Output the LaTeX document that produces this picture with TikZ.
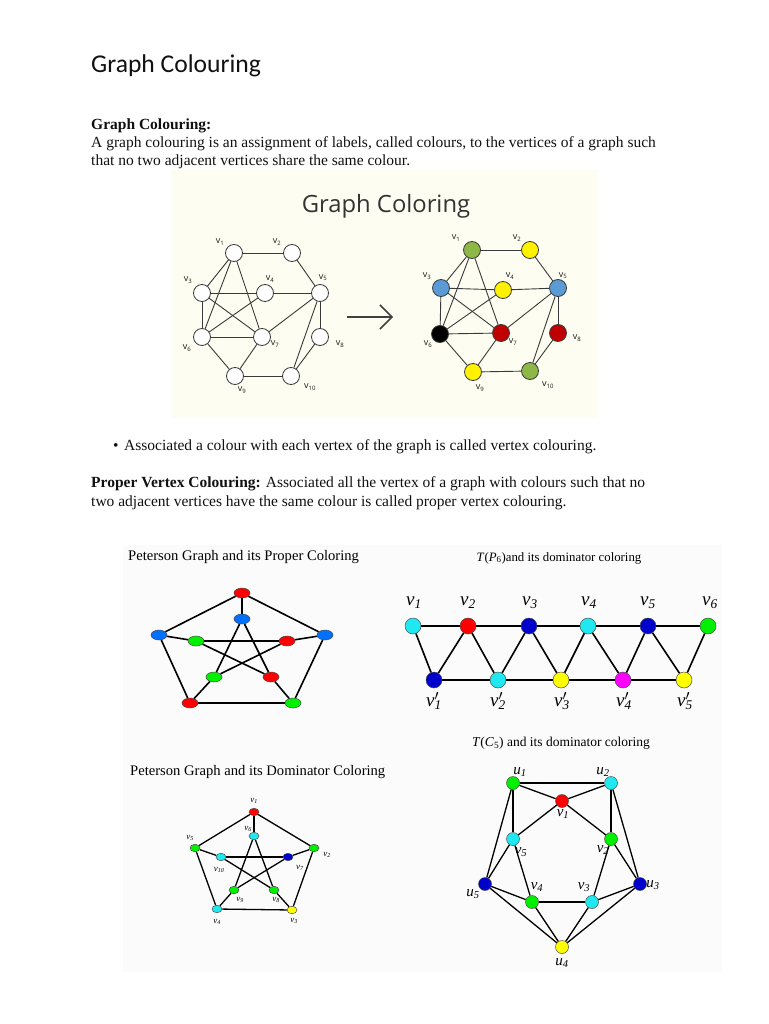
\documentclass[tikz,border=0pt]{standalone}
\usepackage{fontspec}
\setmainfont{Liberation Serif}
\newfontfamily\titlefont{Carlito}
\newfontfamily\osans{Open Sans}
\usetikzlibrary{shapes.geometric,arrows.meta}
\definecolor{txt}{HTML}{111111}
\definecolor{cream}{HTML}{FDFDF2}
\definecolor{panelgray}{HTML}{FBFBFB}
\definecolor{gedge}{HTML}{3A3A3A}
\definecolor{cgreen}{HTML}{8DB848}
\definecolor{cyellow}{HTML}{FFF200}
\definecolor{cblue}{HTML}{5B9BD5}
\definecolor{cred}{HTML}{C00000}
\definecolor{pred}{HTML}{FF0000}
\definecolor{pblue}{HTML}{0070FF}
\definecolor{pgreen}{HTML}{00F000}
\definecolor{pcyan}{HTML}{20E8F0}
\definecolor{pnavy}{HTML}{0000CC}
\definecolor{pmag}{HTML}{FF00FF}
\definecolor{pyellow}{HTML}{FFFF00}
\newcommand\tv[1]{v\textsubscript{#1}}
\newcommand\iv[1]{\textit{v}\textsubscript{\textit{#1}}}
\newcommand\ivp[1]{\textit{v}\rlap{$'$}\textsubscript{\textit{#1}}}
\newcommand\iu[1]{\textit{u}\textsubscript{\textit{#1}}}
\begin{document}
\begin{tikzpicture}[x=1pt,y=-1pt,
  body/.style={inner sep=0pt, anchor=base west, text=txt, font=\fontsize{15.5}{18}\selectfont},
  gn/.style={circle, draw=gedge, line width=0.8pt, minimum size=17pt, inner sep=0pt, fill=white},
  ge/.style={draw=gedge, line width=0.9pt},
  glab/.style={inner sep=0pt, font=\osans\fontsize{9}{9}\selectfont, text=black!90},
  pe/.style={draw=black, line width=1.6pt},
  pel/.style={ellipse, draw=black!70, line width=0.5pt, minimum width=16pt, minimum height=10pt, inner sep=0pt},
  tn/.style={circle, draw=black!70, line width=0.5pt, minimum size=16pt, inner sep=0pt},
  cn/.style={circle, draw=black!70, line width=0.5pt, minimum size=13pt, inner sep=0pt},
  ce/.style={draw=black, line width=1.3pt},
  dn/.style={ellipse, draw=black!70, line width=0.5pt, minimum width=10pt, minimum height=7.5pt, inner sep=0pt},
  de/.style={draw=black, line width=1.3pt},
  ilab/.style={inner sep=0pt, font=\fontsize{19}{19}\selectfont},
  ulab/.style={inner sep=0pt, font=\fontsize{15}{15}\selectfont},
  dlab/.style={inner sep=0pt, font=\fontsize{9}{9}\selectfont},
  ptitle/.style={inner sep=0pt, anchor=base west, font=\fontsize{14.6}{16}\selectfont},
  stitle/.style={inner sep=0pt, anchor=base, font=\fontsize{12.8}{14}\selectfont}
]
\useasboundingbox (0,0) rectangle (768,1024);
\fill[white] (0,0) rectangle (768,1024);

% ---------- text ----------
\node[inner sep=0pt, anchor=base west, text=txt, font=\titlefont\fontsize{25.6}{28}\selectfont] (title) at (91,73) {Graph Colouring};
\node[body, font=\bfseries\fontsize{15.5}{18}\selectfont] (h1) at (91,130) {Graph Colouring:};
\node[body] (l1) at (91,148) {A graph colouring is an assignment of labels, called colours, to the vertices of a graph such};
\node[body] (l2) at (91,166) {that no two adjacent vertices share the same colour.};
\node[body] (bul) at (113,450) {\textbullet};
\node[body] (l3) at (124,450) {Associated a colour with each vertex of the graph is called vertex colouring.};
\node[body] (l4) at (91,487) {\textbf{Proper Vertex Colouring:} Associated all the vertex of a graph with colours such that no};
\node[body] (l5) at (91,506) {two adjacent vertices have the same colour is called proper vertex colouring.};

% ---------- top panel ----------
\fill[cream] (171,170) rectangle (598,418);
\node[inner sep=0pt, anchor=base, text=black!80, font=\osans\fontsize{23.8}{26}\selectfont] (gct) at (386,213) {Graph Coloring};

% left graph
\foreach \n/\x/\y in {1/234/253,2/292/253,3/202/293,4/265/293,5/320/293,6/202/337,7/262/337,8/320/337,9/235/376,10/291/376}
  \node[gn] (a\n) at (\x,\y) {};
\foreach \p/\q in {1/2,2/5,1/3,1/6,1/7,3/4,3/6,3/7,4/5,4/6,6/7,6/9,7/5,7/9,5/8,5/10,8/10,9/10}
  \draw[ge] (a\p) -- (a\q);
\foreach \n/\x/\y in {1/220/242,2/277/242,3/188/280,4/270/279,5/323/278,6/187/348,7/275/344,8/340/344,9/242/390,10/310/387}
  \node[glab] (al\n) at (\x,\y) {\tv{\n}};

% arrow
\coordinate (arrS) at (347,317);
\coordinate (arrE) at (393,317);
\draw[-{Straight Barb[length=12pt,width=24pt]}, line width=1.5pt, draw=black!75] (arrS) -- (arrE);

% right graph
\foreach \n/\x/\y/\c in {1/472/250/cgreen,2/530/250/cyellow,3/441/288/cblue,4/503/290/cyellow,5/558/288/cblue,6/440/334/black,7/501/333/cred,8/558/333/cred,9/473/372/cyellow,10/530/371/cgreen}
  \node[gn, fill=\c] (b\n) at (\x,\y) {};
\foreach \p/\q in {1/2,2/5,1/3,1/6,1/7,3/4,3/6,3/7,4/5,4/6,6/7,6/9,7/5,7/9,5/8,5/10,8/10,9/10}
  \draw[ge] (b\p) -- (b\q);
\foreach \n/\x/\y in {1/456/238,2/517/238,3/427/276,4/510/276,5/563/276,6/428/344,7/513/342,8/577/338,9/480/388,10/548/385}
  \node[glab] (bl\n) at (\x,\y) {\tv{\n}};

% ---------- bottom panel ----------
\fill[panelgray] (123,545) rectangle (722,972);

% Peterson proper colouring
\node[ptitle] (pt1) at (128,560) {Peterson Graph and its Proper Coloring};
\foreach \n/\x/\y/\c in {p1/242/593/pred,p2/159/635/pblue,p3/325/635/pblue,p4/190/703/pred,p5/293/703/pgreen,
                          q1/242/619/pblue,q2/196/641/pgreen,q3/287/641/pred,q4/214/677/pgreen,q5/271/677/pred}
  \node[pel, fill=\c] (\n) at (\x,\y) {};
\foreach \p/\q in {p1/p2,p1/p3,p2/p4,p3/p5,p4/p5,p1/q1,p2/q2,p3/q3,p4/q4,p5/q5,q1/q4,q1/q5,q2/q3,q2/q5,q3/q4}
  \draw[pe] (\p) -- (\q);

% T(P6)
\node[stitle] (pt2) at (559,561) {\textit{T}(\textit{P}\textsubscript{6})and its dominator coloring};
\foreach \n/\x/\c in {1/413/pcyan,2/468/pred,3/529/pnavy,4/588/pcyan,5/648/pnavy,6/708/pgreen}
  \node[tn, fill=\c] (t\n) at (\x,626) {};
\foreach \n/\x/\c in {1/434/pnavy,2/498/pcyan,3/561/pyellow,4/623/pmag,5/684/pyellow}
  \node[tn, fill=\c] (s\n) at (\x,680) {};
\foreach \p/\q in {t1/t2,t2/t3,t3/t4,t4/t5,t5/t6,s1/s2,s2/s3,s3/s4,s4/s5,
                   t1/s1,s1/t2,t2/s2,s2/t3,t3/s3,s3/t4,t4/s4,s4/t5,t5/s5,s5/t6}
  \draw[pe] (\p) -- (\q);
\foreach \n/\x in {1/414,2/468,3/530,4/589,5/648,6/710}
  \node[ilab] (tl\n) at (\x,603) {\iv{\n}};
\foreach \n/\x in {1/434,2/498,3/562,4/624,5/685}
  \node[ilab] (sl\n) at (\x,701) {\ivp{\n}};

% Peterson dominator colouring
\node[ptitle] (pt3) at (130,775) {Peterson Graph and its Dominator Coloring};
\foreach \n/\x/\y/\c in {1/254/812/pred,6/254/836/pcyan,5/195/848/pgreen,2/314/848/pgreen,10/221/857/pcyan,
                          7/288/857/pnavy,9/234/890/pgreen,8/274/890/pgreen,4/217/909/pcyan,3/292/910/pyellow}
  \node[dn, fill=\c] (d\n) at (\x,\y) {};
\foreach \p/\q in {1/2,2/3,3/4,4/5,5/1,1/6,2/7,3/8,4/9,5/10,6/9,6/8,10/7,10/8,7/9}
  \draw[de] (d\p) -- (d\q);
\foreach \n/\x/\y in {1/254/801,6/248/829,5/190/838,2/327/855,10/219/870,7/300/868,9/240/900,8/276/900,4/217/922,3/294/921}
  \node[dlab] (dl\n) at (\x,\y) {\iv{\n}};

% T(C5)
\node[stitle, font=\fontsize{13.5}{14}\selectfont] (pt4) at (561,746) {\textit{T}(\textit{C}\textsubscript{5}) and its dominator coloring};
\foreach \n/\x/\y/\c in {u1/513/783/pgreen,u2/611/783/pcyan,w1/562/801/pred,w5/513/839/pcyan,w2/611/839/pgreen,
                          u5/485/884/pnavy,u3/640/884/pnavy,w4/532/902/pgreen,w3/592/902/pcyan,u4/562/947/pyellow}
  \node[cn, fill=\c] (\n) at (\x,\y) {};
\foreach \p/\q in {u1/u2,u2/u3,u3/u4,u4/u5,u5/u1,w1/w2,w2/w3,w3/w4,w4/w5,w5/w1,
                   u1/w1,u2/w1,u2/w2,u3/w2,u3/w3,u4/w3,u4/w4,u5/w4,u5/w5,u1/w5}
  \draw[ce] (\p) -- (\q);
\node[ulab] (ul1) at (520,772) {\iu{1}};
\node[ulab] (ul2) at (603,772) {\iu{2}};
\node[ulab] (ul3) at (653,885) {\iu{3}};
\node[ulab] (ul4) at (562,963) {\iu{4}};
\node[ulab] (ul5) at (473,894) {\iu{5}};
\node[ulab] (wl1) at (563,814) {\iv{1}};
\node[ulab] (wl2) at (603,850) {\iv{2}};
\node[ulab] (wl3) at (584,887) {\iv{3}};
\node[ulab] (wl4) at (537,887) {\iv{4}};
\node[ulab] (wl5) at (521,852) {\iv{5}};
\end{tikzpicture}
\end{document}
